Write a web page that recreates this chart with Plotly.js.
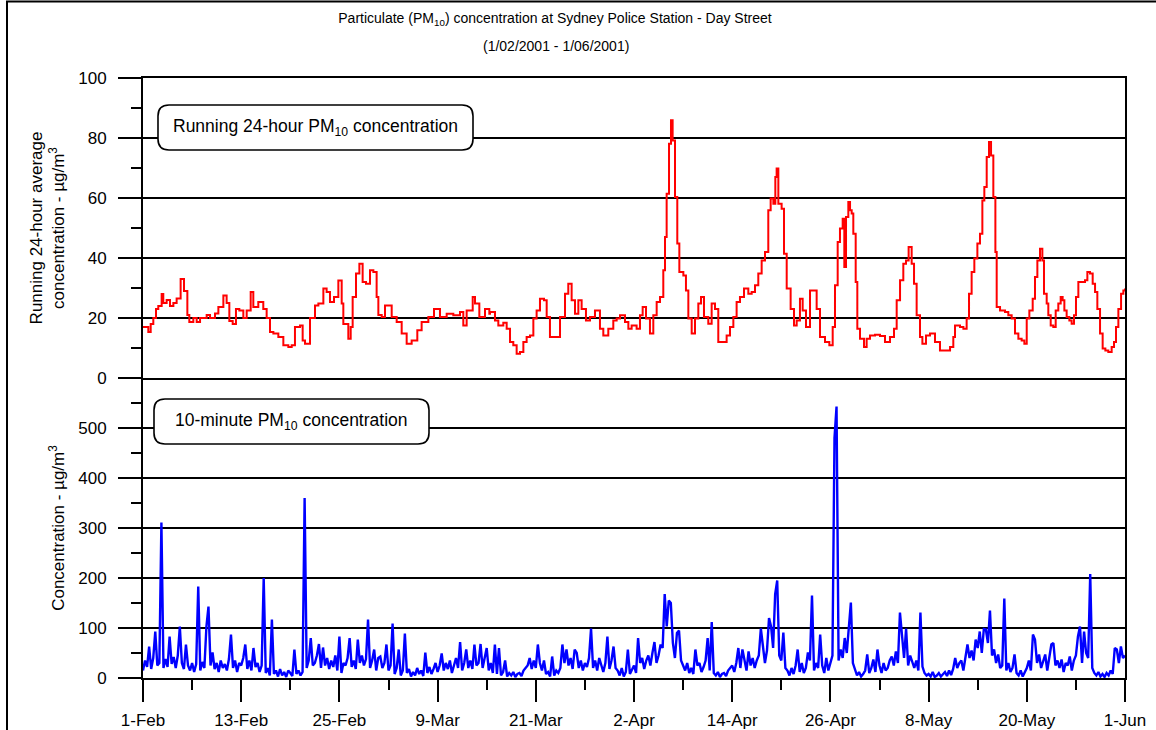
<!DOCTYPE html>
<html>
<head>
<meta charset="utf-8">
<script src="https://cdn.plot.ly/plotly-3.0.1.min.js"></script>
<style>html,body{margin:0;padding:0;background:#fff;}#chart{width:1156px;height:730px;}</style>
</head>
<body>
<div id="chart"></div>
<script>
// ---- Data ----
// x tick labels (every 12 days from 1-Feb-2001)
const tickLabels = ['1-Feb','13-Feb','25-Feb','9-Mar','21-Mar','2-Apr','14-Apr','26-Apr','8-May','20-May','1-Jun'];

// Running 24-hour average PM10 (days after 1-Feb-2001, ug/m3)
const redDays = [0.00,0.65,0.94,1.26,1.59,1.87,2.28,2.48,2.89,3.30,3.71,4.11,4.60,5.01,5.42,5.66,6.15,6.56,6.97,7.78,8.19,8.80,9.21,9.82,10.22,10.55,10.96,11.36,11.77,12.26,12.67,13.16,13.48,14.09,14.70,15.11,15.52,15.93,16.54,17.15,17.76,18.17,18.57,19.19,19.51,19.80,20.41,21.02,21.43,22.04,22.44,22.85,23.34,23.87,24.28,24.48,25.09,25.38,25.62,26.03,26.44,26.84,27.25,27.74,28.15,28.55,28.76,29.17,29.57,29.98,30.39,31.00,31.61,32.22,32.83,33.52,34.05,34.87,35.56,36.29,37.11,37.92,38.74,39.14,39.55,40.29,40.57,41.10,41.79,42.32,
42.40,43.01,43.42,44.03,44.44,44.85,45.25,45.66,46.07,46.48,46.88,47.29,47.70,48.10,48.51,49.00,49.33,49.73,50.34,50.96,51.57,51.97,52.38,52.79,53.20,53.60,54.13,54.62,55.23,55.84,56.25,56.86,57.47,57.88,58.29,58.90,59.31,59.71,60.32,60.73,61.06,61.47,61.95,62.36,62.77,63.18,63.58,63.79,63.99,64.28,64.52,64.72,65.01,65.29,65.54,66.03,66.35,66.64,67.05,67.45,67.86,68.19,68.55,69.08,69.49,69.90,70.30,70.92,71.32,71.73,72.14,72.54,72.95,73.44,73.97,74.38,74.79,75.19,75.60,76.01,76.41,76.70,77.03,77.27,77.43,77.64,78.04,78.33,78.66,79.14,79.55,79.88,80.28,80.61,81.02,81.51,82.00,82.32,82.73,83.34,83.87,
84.28,84.56,84.89,85.17,85.50,85.70,85.91,86.19,86.40,86.60,86.80,87.09,87.29,87.62,88.11,88.43,88.84,89.45,90.06,90.67,91.28,91.77,92.10,92.51,92.91,93.24,93.56,93.93,94.22,94.54,94.95,95.24,95.68,96.17,96.78,97.39,98.00,98.62,99.02,99.23,99.84,100.25,100.65,100.94,101.26,101.59,101.96,102.28,102.57,102.81,103.10,103.38,103.63,103.91,104.16,104.32,104.73,105.34,105.74,106.15,106.56,106.97,107.37,107.70,107.99,108.31,108.72,109.00,109.29,109.61,109.90,110.10,110.43,110.63,110.92,111.24,111.53,111.85,112.14,112.38,112.59,112.87,113.20,113.48,113.77,114.01,114.30,114.71,115.11,115.40,115.72,116.05,116.34,116.62,116.95,117.27,117.60,117.96,118.37,118.66,118.90,119.19,119.52,119.80,120.00];
const redVals = [17,15.3,18,20,23,24,28,25,26,24,25,26.5,33,29,21,18.7,20,18.7,20,21,20,21.5,23.7,27.5,25,19,18,23,22.5,20,22.5,28.7,23.7,25.3,23,20,15.3,14.8,13.7,10.9,10.3,10.9,17,17.5,12.5,11.4,20,24.2,24.8,29.8,28.7,25.3,27,32.5,24.8,18,13.1,17,27,34.8,38.1,32,31.4,35.9,35.3,27,21,20.3,24.2,24.2,20.3,18.7,14.8,11.4,12.5,15.9,18.7,20.3,23,20.3,21.4,20.9,22,17.5,22.5,27,24.8,20.3,23,21.4,
22,19.2,17.5,18.4,16.4,12,10.9,8.1,8.7,12,13.7,14.2,19.8,22.5,26.4,25.9,20.3,13.7,13.7,20.3,28.1,31.4,25.9,21.4,25.9,23,19.2,20.3,22.5,16.4,14.2,16.4,19.2,19.8,20.9,18.7,16.4,17.5,16.4,20.9,23.7,19.8,14.8,20.9,25.3,27,35.9,47,61.4,78.1,85.9,79.2,60.3,44.8,35.3,34.2,29.2,19.8,14.8,19.8,24.8,27,20.3,18.1,24.8,23,12,12,14.2,17,20.3,25.3,27,29.8,28.1,28.7,30.9,34.8,39.2,42,55.9,59.8,58.1,67,69.8,58.1,56.4,41.4,29.8,23,17.5,19.2,26.4,22.5,17,29.2,29.2,23,13.7,12,10.9,
17,30.9,45.3,49.8,53.1,37,53.7,58.7,55.9,54.8,48.1,32,16.4,13.1,10.3,13.1,14.2,14.4,14,12,13.7,16.4,25.9,32.6,38.1,39.2,43.7,38.1,31.4,20.9,13.7,11.4,14.2,14.8,12,9.2,9.2,10.3,13.7,17.5,17,16.4,19.8,28.1,35.3,39.8,44.8,48.1,59.2,63.7,73.7,78.7,74.2,60.3,42,23.7,22.5,22,20.9,19.8,14.8,13.1,12.5,11.4,19.8,22.5,26.4,33.7,39.2,43.1,39.2,28.1,24.8,20.9,17.5,17,22.5,24.8,27,25.9,22.5,20.3,19.2,18.1,20.9,27,32,32,32.6,35.3,34.8,31.4,28.7,23,14.8,9.8,9.2,8.7,10.3,12,17,23,28.1,29.2,29.8];

// 10-minute PM10, sampled every 6 hours (4 values per day, ug/m3)
const blueStepDays = 0.25;
const blueVals = [
15,35,22,63, 18,40,93,25, 30,311,20,38, 22,83,28,42, 20,45,103,30,
18,67,25,15, 30,12,28,183, 15,32,20,103, 143,25,51,18, 30,12,35,20,
28,15,38,87, 20,35,12,30, 25,40,67,18, 35,15,60,22, 30,12,25,200,
10,20,5,117, 8,15,3,18, 5,12,2,15, 10,4,57,8, 15,5,12,360,
20,35,80,25, 30,45,68,20, 61,25,40,18, 35,22,45,15, 83,10,30,25,
40,80,22,35, 18,77,30,45, 25,38,117,20, 35,57,15,40, 43,20,30,67,
15,25,109,8, 20,57,5,15, 89,10,18,3, 12,5,20,8, 15,4,51,10,
22,8,18,30, 12,25,49,15, 30,18,35,10, 25,40,20,72, 15,30,57,20,
35,18,67,25, 30,68,20,40, 60,15,30,10, 67,8,60,5, 12,35,3,10,
5,12,2,8, 10,4,15,20, 25,40,18,35, 20,67,30,15, 35,8,12,3,
43,5,15,10, 20,67,30,57, 25,40,18,57, 50,20,35,15, 30,22,40,99,
20,35,15,40, 25,12,30,83, 18,35,63,20, 15,5,20,3, 12,57,8,15,
25,10,80,30, 40,18,35,45, 25,50,72,30, 45,67,60,168, 103,155,150,70,
40,90,95,35, 25,15,30,10, 20,8,57,25, 30,12,22,35, 80,15,112,10,
5,12,2,8, 10,4,15,20, 25,12,30,60, 20,57,35,15, 53,25,40,20,
35,45,99,67, 30,55,120,103, 60,168,195,45, 35,91,20,15, 5,20,8,25,
57,12,30,10, 20,51,35,165, 15,30,20,87, 25,10,40,15, 30,45,480,543,
35,57,40,80, 50,107,151,30, 15,5,12,3, 8,15,47,10, 20,37,12,57,
25,10,30,15, 20,35,43,25, 53,30,131,83, 40,99,25,45, 30,20,35,15,
131,23,10,5, 8,3,12,2, 5,10,3,8, 12,4,15,6, 18,40,20,30,
35,15,45,67, 40,55,35,77, 60,93,50,98, 97,70,135,45, 57,30,47,20,
25,159,15,30, 12,20,47,10, 5,15,3,12, 20,35,15,87, 77,30,47,20,
35,47,15,40, 67,70,25,35, 20,37,12,30, 25,43,15,35, 45,83,103,30,
93,50,40,208, 20,10,5,12, 3,8,2,10, 5,15,8,60, 57,30,63,40,
45];

// ---- Build ----
const DAY = 864e5;
const T0 = Date.UTC(2001, 1, 1);
const toT = d => T0 + d * DAY;
const redX = redDays.map(toT);
const blueX = blueVals.map((v, i) => toT(i * blueStepDays));
const tickVals = tickLabels.map((t, i) => toT(i * 12));

// plot geometry (pixels) for decorations
const W = 1156, H = 730, L = 143, R = 31, T = 78, B = 52;
const PW = W - L - R, PH = H - T - B;
const px = x => (x - L) / PW;
const py = y => (H - B - y) / PH;
function roundRect(x0, y0, x1, y1, r) {
  const p = (x, y) => px(x).toFixed(5) + ',' + py(y).toFixed(5);
  return 'M' + p(x0 + r, y0) + ' L' + p(x1 - r, y0) + ' Q' + p(x1, y0) + ' ' + p(x1, y0 + r) +
    ' L' + p(x1, y1 - r) + ' Q' + p(x1, y1) + ' ' + p(x1 - r, y1) +
    ' L' + p(x0 + r, y1) + ' Q' + p(x0, y1) + ' ' + p(x0, y1 - r) +
    ' L' + p(x0, y0 + r) + ' Q' + p(x0, y0) + ' ' + p(x0 + r, y0) + ' Z';
}

const FONT = 'Liberation Sans, Arial, Helvetica, sans-serif';

const traces = [
  {x: blueX, y: blueVals, xaxis: 'x', yaxis: 'y', type: 'scatter', mode: 'lines',
   line: {color: '#0000FF', width: 2.4}, hoverinfo: 'skip', name: '10-minute PM10'},
  {x: redX, y: redVals, xaxis: 'x2', yaxis: 'y2', type: 'scatter', mode: 'lines',
   line: {color: '#FF0000', width: 2, shape: 'hv'}, hoverinfo: 'skip', name: 'Running 24-hour PM10'}
];

const axLine = {showline: true, linecolor: 'black', linewidth: 2, zeroline: false};
const layout = {
  width: W, height: H,
  margin: {l: L, r: R, t: T, b: B, pad: 0},
  paper_bgcolor: 'white', plot_bgcolor: 'white',
  showlegend: false,
  font: {family: FONT, size: 17, color: 'black'},
  title: {text: 'Particulate (PM<sub>10</sub>) concentration at Sydney Police Station - Day Street',
    font: {family: FONT, size: 14, color: 'black'},
    xref: 'container', yref: 'container', x: 555 / W, xanchor: 'center', y: 1 - 18 / H, yanchor: 'middle'},
  xaxis: Object.assign({}, axLine, {
    domain: [0, 1], anchor: 'y', type: 'date',
    range: [toT(0), toT(120)],
    tickmode: 'array', tickvals: tickVals, ticktext: tickLabels,
    ticks: 'outside', ticklen: 22, tickwidth: 2, tickcolor: 'black',
    ticklabelstandoff: 4,
    showgrid: false,
    minor: {tick0: toT(6), dtick: 6 * DAY, ticks: 'outside', ticklen: 10, tickwidth: 2, tickcolor: 'black', showgrid: false},
    tickfont: {family: FONT, size: 17}
  }),
  xaxis2: Object.assign({}, axLine, {
    domain: [0, 1], anchor: 'y2', type: 'date', matches: 'x', mirror: true,
    showticklabels: false, ticks: '', showgrid: false
  }),
  yaxis: Object.assign({}, axLine, {
    domain: [0, 0.5], anchor: 'x', range: [0, 600], mirror: true,
    tickmode: 'array', tickvals: [0, 100, 200, 300, 400, 500],
    ticks: 'outside', ticklen: 23, tickwidth: 2, tickcolor: 'black',
    ticklabelstandoff: 8,
    showgrid: true, gridcolor: 'black', gridwidth: 1.5,
    minor: {tick0: 50, dtick: 100, ticks: 'outside', ticklen: 10, tickwidth: 2, tickcolor: 'black', showgrid: false},
    tickfont: {family: FONT, size: 17},
    title: {text: 'Concentration - µg/m<sup>3</sup>', font: {family: FONT, size: 17}, standoff: 9}
  }),
  yaxis2: Object.assign({}, axLine, {
    domain: [0.5, 1], anchor: 'x2', range: [0, 100], mirror: true,
    tickmode: 'array', tickvals: [0, 20, 40, 60, 80, 100],
    ticks: 'outside', ticklen: 23, tickwidth: 2, tickcolor: 'black',
    ticklabelstandoff: 8,
    showgrid: true, gridcolor: 'black', gridwidth: 1.5,
    minor: {tick0: 10, dtick: 20, ticks: 'outside', ticklen: 10, tickwidth: 2, tickcolor: 'black', showgrid: false},
    tickfont: {family: FONT, size: 17},
    title: {text: 'Running 24-hour average<br>concentration - µg/m<sup>3</sup>', font: {family: FONT, size: 17}, standoff: 9}
  }),
  shapes: [
    {type: 'rect', xref: 'paper', yref: 'paper', x0: px(7), x1: px(1175), y0: py(745), y1: py(1.5),
     line: {color: 'black', width: 2}, fillcolor: 'rgba(0,0,0,0)', layer: 'below'},
    {type: 'path', xref: 'paper', yref: 'paper', path: roundRect(158, 105, 473, 150, 11),
     line: {color: 'black', width: 1.6}, fillcolor: 'white', layer: 'above'},
    {type: 'path', xref: 'paper', yref: 'paper', path: roundRect(154, 399, 429, 444, 11),
     line: {color: 'black', width: 1.6}, fillcolor: 'white', layer: 'above'}
  ],
  annotations: [
    {text: '(1/02/2001 - 1/06/2001)', xref: 'paper', yref: 'paper', x: px(556), y: py(46),
     xanchor: 'center', yanchor: 'middle', showarrow: false, font: {family: FONT, size: 14}},
    {text: 'Running 24-hour PM<sub>10</sub> concentration', xref: 'paper', yref: 'paper',
     x: px(315), y: py(127), xanchor: 'center', yanchor: 'middle', showarrow: false, font: {family: FONT, size: 17.5}},
    {text: '10-minute PM<sub>10</sub> concentration', xref: 'paper', yref: 'paper',
     x: px(291), y: py(421), xanchor: 'center', yanchor: 'middle', showarrow: false, font: {family: FONT, size: 17.5}}
  ]
};

Plotly.newPlot('chart', traces, layout, {staticPlot: true, displayModeBar: false});
</script>
</body>
</html>
